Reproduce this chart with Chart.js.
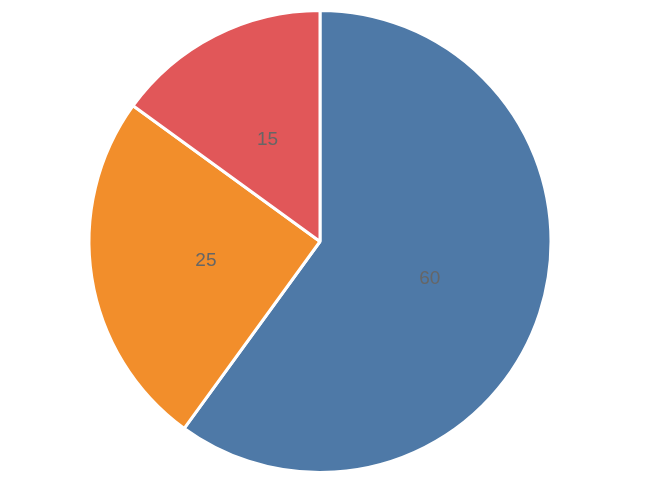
<!DOCTYPE html>
<html>
<head>
<meta charset="utf-8">
<script src="https://cdn.jsdelivr.net/npm/chart.js@4/dist/chart.umd.min.js"></script>
<style>
html,body{margin:0;padding:0;background:#fff;}
#wrap{width:666px;height:486px;position:relative;}
</style>
</head>
<body>
<div id="wrap"><canvas id="c" width="666" height="486"></canvas></div>
<script>
const categories = ["A", "B", "C"];
const values = [60, 25, 15];
const colors = ["#4e79a7", "#f28e2b", "#e15759"];

const valueLabels = {
  id: 'valueLabels',
  afterDatasetsDraw(chart) {
    const ctx = chart.ctx;
    const meta = chart.getDatasetMeta(0);
    ctx.save();
    ctx.font = '19px "Liberation Sans", Arial, sans-serif';
    ctx.fillStyle = '#666666';
    ctx.textAlign = 'center';
    ctx.textBaseline = 'middle';
    meta.data.forEach((arc, i) => {
      const p = arc.tooltipPosition();
      ctx.fillText(String(chart.data.datasets[0].data[i]), p.x, p.y + 1.5);
    });
    ctx.restore();
  }
};

new Chart(document.getElementById('c'), {
  type: 'pie',
  data: {
    labels: categories,
    datasets: [{
      data: values,
      backgroundColor: colors,
      borderColor: '#ffffff',
      borderWidth: 3
    }]
  },
  options: {
    responsive: false,
    animation: false,
    layout: { padding: { top: 9, bottom: 12, left: 0, right: 26 } },
    plugins: { legend: { display: false }, tooltip: { enabled: false } }
  },
  plugins: [valueLabels]
});
</script>
</body>
</html>
